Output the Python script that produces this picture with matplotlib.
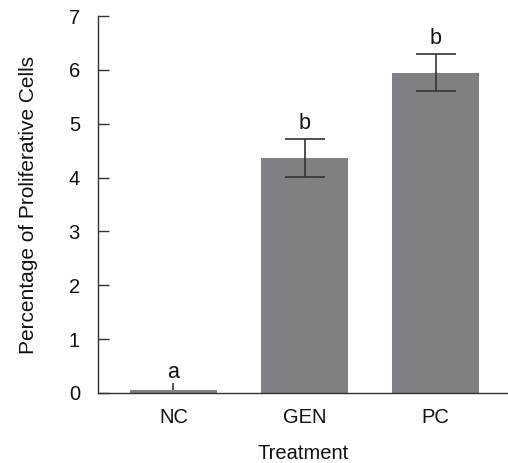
import matplotlib
matplotlib.use("Agg")
import matplotlib.pyplot as plt

categories = ["NC", "GEN", "PC"]
means = [0.05, 4.36, 5.95]
errors = [0.13, 0.35, 0.34]
letters = ["a", "b", "b"]
yticks = [0, 1, 2, 3, 4, 5, 6, 7]

plt.rcParams['font.family'] = ['Liberation Sans', 'DejaVu Sans']

fs = 14.5
fig = plt.figure(figsize=(5.08, 4.63), dpi=100)
ax = fig.add_axes([98/508, 70/463, 410/508, 377/463])

x = list(range(len(categories)))
ax.bar(x, means, width=0.67, color="#7f8083", zorder=2)
for xi, m, e in zip(x, means, errors):
    if xi == 0:
        ax.errorbar([xi], [m], yerr=[[0], [e]], fmt='none', ecolor="#333333",
                    elinewidth=1.2, capsize=0, zorder=3)
    else:
        ax.errorbar([xi], [m], yerr=[[e], [e]], fmt='none', ecolor="#333333",
                    elinewidth=1.2, capsize=14.5, capthick=1.2, zorder=3)

offsets = [0, 4, 4]
for xi, m, e, l, o in zip(x, means, errors, letters, offsets):
    ax.annotate(l, xy=(xi, m + e), xytext=(0, o), textcoords='offset points',
                ha='center', va='bottom', fontsize=fs + 1, color="#111111")

ax.set_xlim(-0.576, 2.553)
ax.set_ylim(0, 7)
ax.set_yticks(yticks)
ax.set_xticks(x)
ax.set_xticklabels(categories)

for s in ['top', 'right']:
    ax.spines[s].set_visible(False)
for s in ['left', 'bottom']:
    ax.spines[s].set_color("#333333")
    ax.spines[s].set_linewidth(1.0)

ax.tick_params(axis='y', direction='in', length=8, width=1, color="#333333",
               labelsize=fs, pad=13, labelcolor="#111111")
ax.tick_params(axis='x', length=0, labelsize=fs, pad=11, labelcolor="#111111")

ax.set_xlabel("Treatment", fontsize=fs, labelpad=12, color="#111111")
ax.set_ylabel("Percentage of Proliferative Cells", fontsize=fs + 0.5, labelpad=22, color="#111111")

fig.savefig("out.png", dpi=100)
